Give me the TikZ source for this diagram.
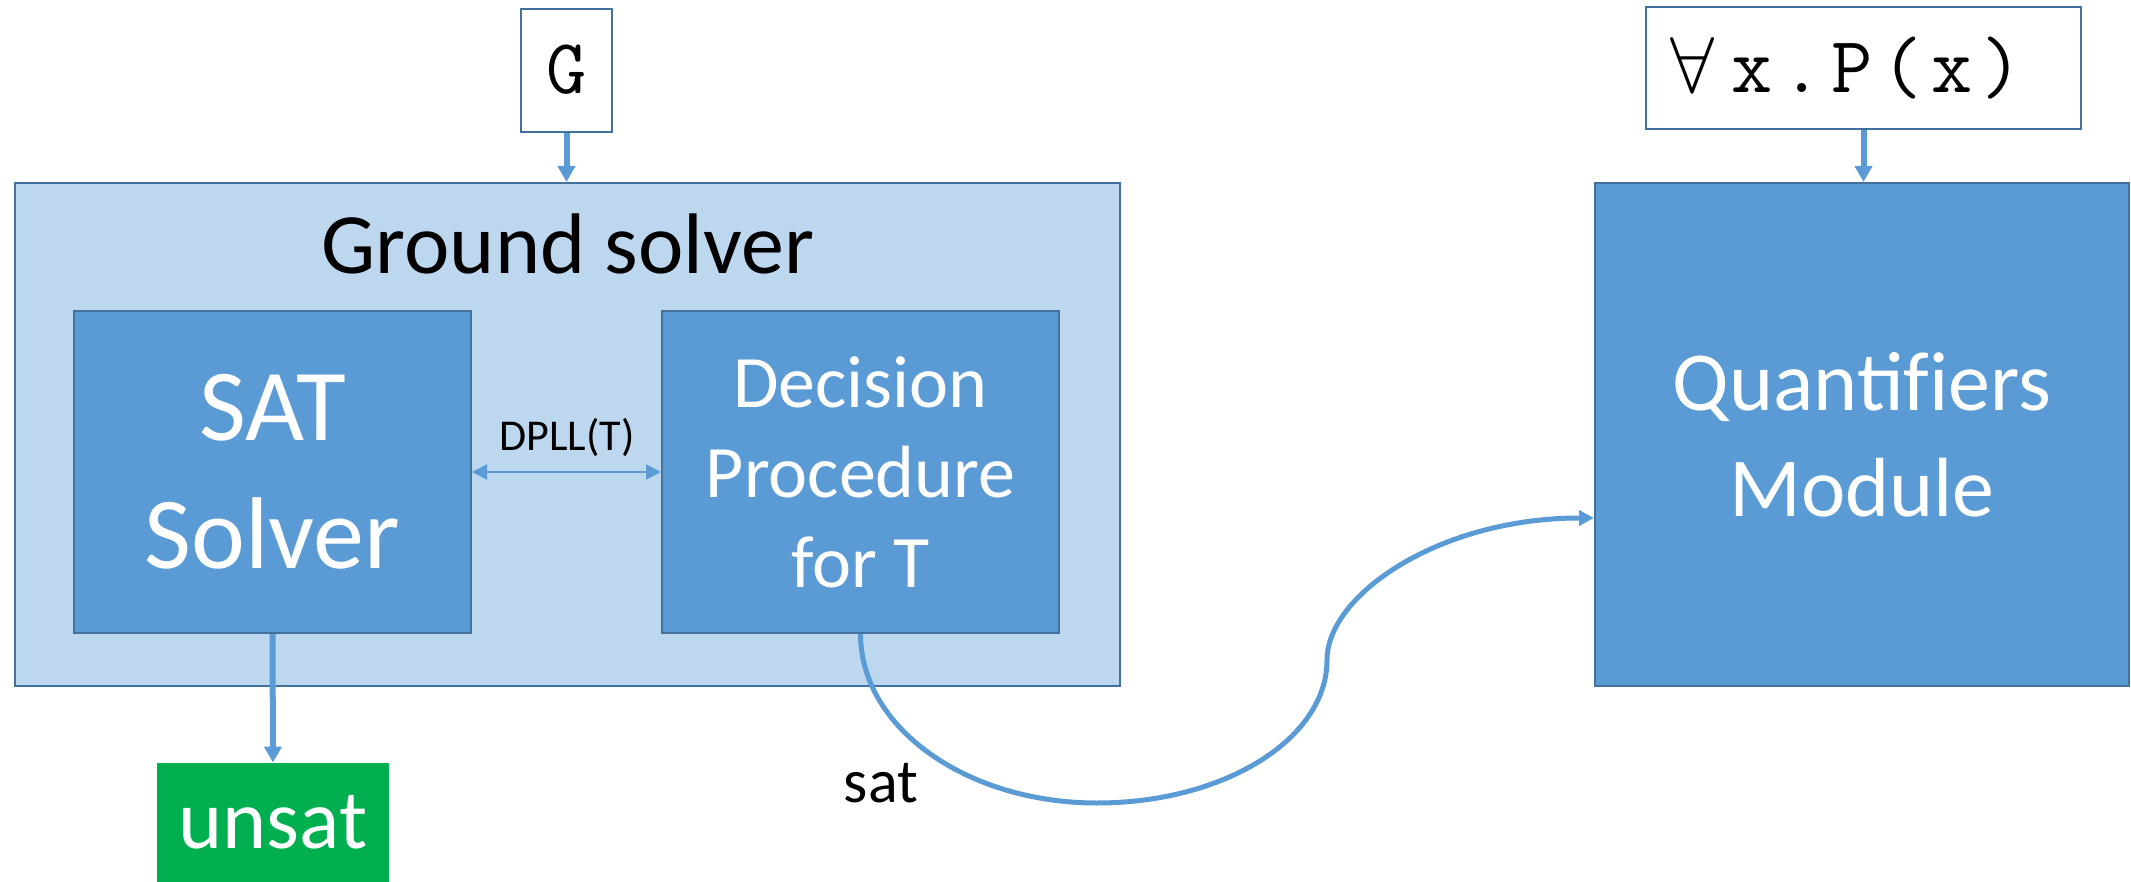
\documentclass[tikz,border=0pt]{standalone}
\usepackage{fontspec}
\setmainfont{Carlito}
\usetikzlibrary{arrows.meta}
\definecolor{boxblue}{HTML}{5B9BD5}
\definecolor{paleblue}{HTML}{BDD7EE}
\definecolor{edgeblue}{HTML}{41719C}
\definecolor{okgreen}{HTML}{00B050}
% typewriter text set in wide fixed cells
\newcommand{\codetext}[1]{\ttfamily\fontsize{#1}{#1}\selectfont}
\newcommand{\cell}[1]{\makebox[25pt][c]{#1}}

\begin{document}
\begin{tikzpicture}[x=0.5pt,y=-0.5pt,
  frame/.style={rectangle, draw=edgeblue, line width=1pt, inner sep=0pt},
  solidbox/.style={frame, fill=boxblue, text=white, align=center},
  inputbox/.style={frame, fill=white},
  flow/.style={draw=boxblue, line width=3pt, -{Triangle[length=8pt,width=8.5pt]}},
  thinflow/.style={draw=boxblue, line width=1pt, {Triangle[length=7.5pt,width=7.5pt]}-{Triangle[length=7.5pt,width=7.5pt]}},
  curveflow/.style={draw=boxblue, line width=2.5pt, -{Triangle[length=7.5pt,width=7.5pt]}},
  lbl/.style={inner sep=0pt, anchor=base}
]
\useasboundingbox (0,0) rectangle (2131,882);

% containers and modules
\node[frame, fill=paleblue, minimum width=552.5pt, minimum height=251.5pt] (ground) at (567.5,434.5) {};
\node[lbl, font=\fontsize{43}{50}\selectfont] (gtitle) at (568,274) {Ground solver};

\node[solidbox, minimum width=198.5pt, minimum height=161pt,
      font=\fontsize{51}{64}\selectfont] (sat) at (272.5,472) {SAT\\Solver};
\node[solidbox, minimum width=198.5pt, minimum height=161pt,
      font=\fontsize{37}{45}\selectfont] (dec) at (860.5,472) {Decision\\Procedure\\for T};
\node[solidbox, minimum width=267pt, minimum height=251.5pt,
      font=\fontsize{42}{53}\selectfont] (quant) at (1862,434.5) {Quantif\kern0pt iers\\Module};

% inputs
\node[inputbox, minimum width=45.5pt, minimum height=61.5pt, text height=24pt, text depth=1pt,
      font=\codetext{39}] (goal) at (566.5,70.5) {G};
\node[inputbox, minimum width=217.5pt, minimum height=61pt, inner xsep=12pt,
      text width=193.5pt, align=left, text height=27.5pt, text depth=2.5pt,
      font=\codetext{40}] (forall) at (1863.5,68)
      {\resizebox{!}{27.5pt}{$\forall$}\hspace{6.5pt}\cell{x}\cell{.}\cell{P}\cell{(}\cell{x}\cell{)}};

% result
\node[rectangle, fill=okgreen, text=white, minimum width=116pt, minimum height=59.5pt,
      font=\fontsize{42}{50}\selectfont] (unsat) at (273,822.5) {unsat};

% connectors
\draw[flow] (goal.south) -- (goal.south |- ground.north);
\draw[flow] (forall.south) -- (forall.south |- quant.north);
\draw[flow] (sat.south) -- (unsat.north);
\draw[thinflow] (sat.east) -- (dec.west);
\node[lbl, font=\fontsize{22}{26}\selectfont] (dpll) at (567,450) {DPLL(T)};

\coordinate (dip) at (1097,803);
\coordinate (rise) at (1327,660);
\coordinate (qy) at (0,518);
\coordinate (qin) at (quant.west |- qy);
\draw[curveflow] (dec.south) .. controls +(0,94) and +(-130,0) .. (dip)
                 .. controls +(127,0) and +(0,79) .. (rise)
                 .. controls +(0,-65) and +(-155,0) .. (qin);
\node[lbl, font=\fontsize{31}{36}\selectfont] (satlbl) at (881,802) {sat};
\end{tikzpicture}
\end{document}
